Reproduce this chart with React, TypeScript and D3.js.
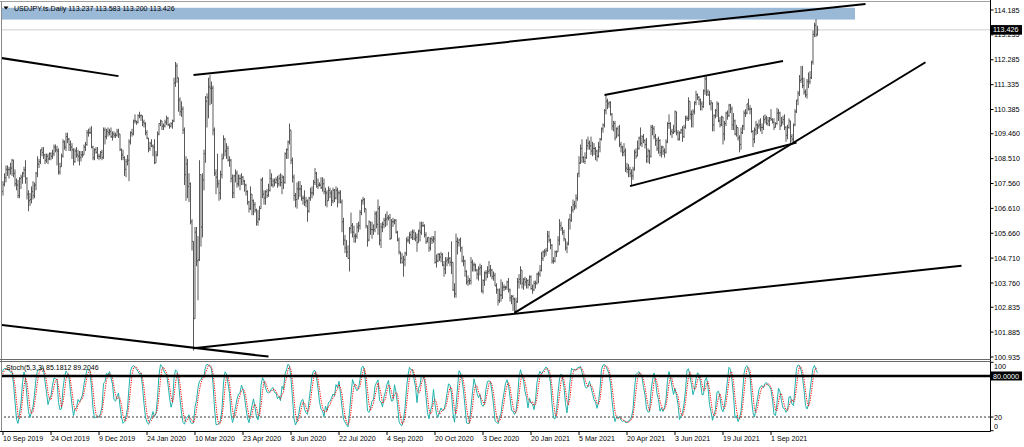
import React from "react";
import * as d3 from "d3";

// ---------- DATA (daily USDJPY bars, 28 Aug 2019 .. 14 Oct 2021; first 9 bars are before the visible window) ----------
const symbolTitle = "USDJPY.ts.Daily 113.237 113.583 113.200 113.426";
const stochTitle = "Stoch(5,3,3) 85.1812 89.2046";
const lastPrice = 113.426;
const lastPriceLabel = "113.426";
const firstVisibleBar = 9; // 10 Sep 2019

const closes = [
  105.65,106.5,106.25,106.2,105.95,106.45,106.95,106.9,107.25,
  107.53,107.78,108.1,108.09,
  108.1,108.15,108.45,107.95,107.55,
  107.5,107.1,107.75,107.8,107.95,
  108.08,107.75,107.15,106.9,106.95,
  107.25,107.1,107.5,107.95,108.3,
  108.4,108.85,108.75,108.65,108.45,
  108.6,108.5,108.7,108.6,108.7,
  108.95,108.85,108.8,108,108.2,
  108.6,109.15,108.95,109.35,109.25,
  109.05,108.95,108.85,108.4,108.8,
  108.65,108.6,108.55,108.65,108.65,
  108.95,109.05,109.5,109.5,109.5,
  108.95,108.55,108.85,108.75,108.6,
  108.6,108.75,108.55,109.6,109.35,
  109.55,109.5,109.55,109.35,109.45,
  109.4,109.4,109.55,109.45,
  108.85,108.65,108.55,108.1,
  108.4,108.45,109.15,109.5,109.45,
  109.95,109.95,109.9,110.15,110.15,
  110.15,109.9,109.85,109.5,109.3,
  108.9,109.1,109,108.95,108.35,
  108.65,109.45,109.85,109.95,109.75,
  109.75,109.9,110.05,109.8,109.75,
  109.85,109.95,111.4,112.05,111.6,
  110.75,110.3,110.4,109.6,107.9,
  108.3,107.45,107.55,106.1,105.35,
  102.4,105.7,104.6,104.65,107.9,
  105.9,107.7,108.7,110.7,110.85,
  111.25,111.2,111.2,109.6,107.95,
  107.8,107.55,107.2,107.9,108.5,
  109.25,108.8,108.9,108.45,108.45,
  107.75,107.2,107.85,107.95,107.55,
  107.75,107.75,107.8,107.65,107.5,
  107.25,106.85,106.6,107.15,106.9,
  106.75,106.55,106.1,106.2,106.6,
  107.7,107.15,107,107.25,107.1,
  107.3,107.75,107.5,107.65,107.6,
  107.7,107.55,107.75,107.6,107.8,
  107.6,108.7,108.85,109.15,109.6,
  108.45,107.8,107.1,106.95,107.35,
  107.35,107.35,107,107,106.85,
  106.9,106.5,107,107.2,107.2,
  107.6,107.95,107.45,107.5,107.5,
  107.4,107.55,107.25,107.2,106.9,
  107.3,107.2,106.9,107.3,107,
  107.3,107.2,107.2,106.85,106.1,
  105.4,105.1,104.95,104.7,105.85,
  105.95,105.7,105.55,105.55,105.9,
  105.95,106.45,106.9,106.95,106.6,
  105.95,105.4,106.1,105.8,105.8,
  105.8,106.4,106,106.6,105.4,
  105.9,106,106.15,106.2,106.25,
  106.25,105.45,106.1,106.1,106.15,
  105.7,105.4,104.95,104.7,104.55,
  104.65,104.9,105.4,105.4,105.6,
  105.5,105.7,105.45,105.5,105.3,
  105.75,105.7,105.95,105.95,105.6,
  105.35,105.5,105.1,105.45,105.4,
  105.45,104.55,104.6,104.85,104.75,
  104.85,104.45,104.3,104.6,104.65,
  104.7,104.55,104.55,103.5,103.35,
  105.35,105.3,105.4,105.1,104.6,
  104.6,104.2,103.8,103.85,103.85,
  104.55,104.45,104.45,104.25,104.1,
  104.3,104.35,103.45,103.85,104.15,
  104.15,104.2,104.25,104.25,104,
  104.05,103.65,103.5,103.1,103.3,
  103.3,103.6,103.6,103.6,
  103.8,103.5,103.2,103.25,
  103.15,102.7,103.05,103.8,103.9,
  104.25,103.75,103.9,103.8,103.85,
  103.7,104,103.55,103.5,103.75,
  103.75,104.1,104.1,104.25,104.7,
  104.95,104.95,105,105.55,105.4,
  105.2,104.6,104.6,104.95,104.95,
  105.4,105.95,105.85,105.7,105.45,
  105.1,105.25,106.2,106.15,106.55,
  106.75,106.7,107,107.95,108.35,
  108.9,108.55,108.4,108.55,109,
  109.1,109,108.8,108.9,108.9,
  108.8,108.6,108.95,109.25,109.65,
  109.8,110.35,110.7,110.6,110.65,
  110.2,109.75,109.85,109.3,109.65,
  109.4,109.05,108.95,108.75,108.8,
  108.15,108.1,108.1,107.95,107.85,
  108.1,108.75,108.6,108.9,109.3,
  109.1,109.35,109.2,109.05,108.6,
  108.8,108.6,109.7,109.65,109.35,
  109.2,108.9,109.2,108.75,108.95,
  108.8,108.75,109.15,109.85,109.85,
  109.55,109.5,109.55,110.3,109.5,
  109.25,109.5,109.6,109.35,109.7,
  110.05,110.05,110.7,110.2,110.2,
  110.3,110.65,110.95,110.85,110.75,
  110.6,110.5,111.1,111.55,111.05,
  110.95,110.6,110.65,109.8,110.15,
  110.35,110.6,109.95,109.8,110.1,
  109.45,109.85,110.25,110.15,110.55,
  110.4,109.8,109.95,109.45,109.7,
  109.3,109.05,109.5,109.75,110.25,
  110.25,110.6,110.4,110.4,109.55,
  109.25,109.6,109.8,109.75,109.8,
  109.7,109.7,110,110.05,109.85,
  109.95,110.05,110,109.9,109.7,
  109.85,110.25,110.25,109.75,109.9,
  110,109.7,109.4,109.7,109.95,
  109.35,109.25,109.8,110.3,110.75,
  111,111.5,111.55,111.3,111.05,
  110.95,111.45,111.45,111.6,112.2,
  113.25,113.6,113.24,113.426,
];

const highs = [
  106.15,106.6,106.7,106.35,106.3,106.5,107.2,107.1,107.4,
  107.65,107.95,108.25,108.25,
  108.2,108.35,108.5,108.47,108.1,
  107.75,107.7,107.8,107.9,108,
  108.2,108.45,107.8,107.3,107.2,
  107.45,107.65,107.6,108,108.6,
  108.5,108.85,108.95,108.95,108.7,
  108.7,108.7,108.75,108.75,108.85,
  109.05,109.05,109,108.9,108.35,
  108.7,109.25,109.2,109.5,109.5,
  109.3,109.2,109.1,108.9,108.9,
  108.95,108.85,108.8,108.8,108.8,
  109.05,109.15,109.6,109.65,109.7,
  109.75,109,108.9,108.95,108.95,
  108.7,108.8,108.85,109.7,109.7,
  109.65,109.7,109.65,109.7,109.55,
  109.55,109.5,109.65,109.65,
  109.45,108.9,108.85,108.6,
  108.5,108.65,109.25,109.55,109.65,
  110,110.2,109.95,110.2,110.3,
  110.2,110.15,110,109.9,109.6,
  109.3,109.15,109.25,109.05,109.25,
  108.8,109.55,109.85,110,109.95,
  109.85,110,110.15,110.1,109.85,
  109.9,110,111.6,112.2,112.15,
  111.6,110.85,110.7,110.5,109.7,
  108.6,108.5,107.95,107.6,106.2,
  105.35,105.9,105.9,105.55,108.45,
  107.9,107.95,108.85,110.9,111,
  111.6,111.7,111.45,111.3,109.7,
  108.1,108.7,107.7,108.05,108.7,
  109.4,109.3,109.1,109,108.6,
  108.5,107.9,107.9,108.1,108.05,
  107.9,107.9,107.95,107.85,107.7,
  107.55,107.3,106.9,107.45,107.15,
  106.95,106.85,106.6,106.55,106.7,
  107.75,107.8,107.3,107.3,107.35,
  107.55,108.1,107.95,107.75,107.75,
  107.8,107.85,107.9,107.95,107.9,
  107.85,108.75,108.9,109.2,109.85,
  109.6,108.55,107.9,107.2,107.6,
  107.65,107.65,107.5,107.1,107.3,
  107.05,106.95,107.05,107.4,107.45,
  107.7,108.15,108,107.75,107.6,
  107.8,107.8,107.75,107.4,107.3,
  107.45,107.4,107.3,107.4,107.35,
  107.45,107.4,107.3,107.3,106.95,
  106.25,105.6,105.4,105.2,105.9,
  106.45,106.05,105.95,105.65,106.05,
  106.1,106.55,106.95,107.05,107,
  106.6,105.95,106.15,106.1,106.1,
  106,106.5,106.5,106.95,106.7,
  106.05,106.1,106.25,106.4,106.5,
  106.35,106.4,106.2,106.25,106.2,
  106.2,105.75,105.5,104.95,104.9,
  104.8,104.95,105.5,105.55,105.7,
  105.75,105.8,105.8,105.7,105.65,
  105.8,106.1,106.1,106.1,106,
  105.7,105.5,105.5,105.5,105.55,
  105.55,105.75,104.85,104.9,104.9,
  104.95,104.9,104.6,104.75,104.75,
  104.95,104.75,105.35,104.5,103.75,
  105.65,105.5,105.45,105.5,105.15,
  104.8,104.65,104.25,104.05,103.95,
  104.75,104.65,104.55,104.5,104.3,
  104.4,104.5,104.45,103.9,104.2,
  104.25,104.4,104.6,104.45,104.3,
  104.2,104.15,103.75,103.55,103.55,
  103.9,103.8,103.7,103.65,
  103.85,103.95,103.55,103.3,
  103.3,103.2,103.2,103.95,104.1,
  104.4,104.25,103.95,104,103.95,
  103.9,104.05,104.05,103.7,103.85,
  103.85,104.15,104.2,104.45,104.95,
  105,105.05,105.1,105.75,105.75,
  105.45,105.25,104.75,105,105,
  105.55,106.2,106.1,105.9,105.8,
  105.45,105.35,106.2,106.4,106.7,
  106.95,106.9,107.15,107.95,108.6,
  109.05,109.25,108.6,108.75,109.25,
  109.35,109.2,109.35,109.15,109.1,
  108.95,108.85,109.15,109.3,109.7,
  109.85,110.4,110.95,110.8,110.7,
  110.7,110.25,109.95,109.95,109.7,
  109.75,109.8,109.15,109,109.1,
  108.9,108.35,108.3,108.2,108.1,
  108.2,108.85,108.9,109.2,109.35,
  109.7,109.4,109.45,109.25,109.3,
  108.9,108.85,109.8,109.8,109.75,
  109.45,109.3,109.35,109.25,109,
  109,108.9,109.25,109.9,110.2,
  109.9,109.65,109.8,110.35,110.3,
  109.6,109.55,109.65,109.75,109.8,
  110.15,110.15,110.85,110.7,110.35,
  110.4,110.7,111.1,111,110.9,
  110.8,110.7,111.15,111.65,111.65,
  111.15,111.1,110.75,110.65,110.2,
  110.4,110.7,110.65,110.1,110.15,
  110.1,109.95,110.3,110.35,110.6,
  110.6,110.5,110.25,110,109.8,
  109.7,109.4,109.7,109.8,110.35,
  110.4,110.6,110.8,110.55,110.45,
  109.6,109.7,109.95,109.85,110,
  110.05,109.85,110.15,110.2,110.15,
  110.1,110.1,110.4,110.05,110.05,
  109.9,110.45,110.4,110.3,110.1,
  110.15,110.2,109.75,109.8,110.05,
  109.95,109.45,109.85,110.4,110.75,
  111.1,111.7,112.05,112.05,111.6,
  111.15,111.55,111.8,111.85,112.25,
  113.4,113.7,113.84,113.583,
];

const lows = [
  105.6,105.75,106.2,106.1,105.75,105.9,106.4,106.75,106.85,
  107.1,107.45,107.6,107.85,
  107.75,107.9,107.85,107.8,107.45,
  107.3,107,107,107.35,107.55,
  107.8,107.55,106.95,106.5,106.7,
  106.8,106.95,107,107.3,107.8,
  108.15,108.3,108.6,108.5,108.3,
  108.35,108.3,108.45,108.45,108.5,
  108.6,108.75,108.25,107.9,107.9,
  108.25,108.55,108.85,108.8,109.1,
  108.8,108.8,108.5,108.25,108.35,
  108.55,108.4,108.25,108.4,108.55,
  108.7,108.8,109,109.35,109.45,
  108.9,108.45,108.45,108.7,108.5,
  108.45,108.5,108.45,108.5,109.05,
  109.25,109.35,109.4,109.3,109.2,
  109.3,109.3,109.35,109.3,
  108.8,108.45,108.45,107.85,
  107.8,108.25,107.65,109.05,109.35,
  109.4,109.85,109.8,109.85,110.05,
  109.95,109.75,109.7,109.4,109.25,
  108.75,108.8,108.95,108.6,108.3,
  108.35,108.6,109.4,109.75,109.6,
  109.6,109.7,109.8,109.75,109.65,
  109.7,109.65,109.9,111.25,111.4,
  110.3,110.15,110.1,109.45,107.5,
  106.9,107,106.85,106,105,
  101.18,102.45,104.4,103.1,104.6,
  105.15,105.5,107.3,108.35,109.7,
  110.05,110.55,110.6,109.4,107.85,
  107.15,107.4,106.9,106.95,107.75,
  108.5,108.6,108.5,108.4,108.2,
  107.6,107,107,107.6,107.4,
  107.45,107.3,107.5,107.5,107.25,
  107.1,106.75,106.45,106.55,106.35,
  106.35,106.45,105.95,105.95,106.15,
  106.6,107,106.75,106.75,107,
  107.05,107.25,107.45,107.4,107.45,
  107.55,107.4,107.45,107.45,107.15,
  107.35,107.55,108.5,108.5,109.05,
  108.3,107.6,106.9,106.65,106.6,
  106.95,107.05,106.9,106.75,106.7,
  106.65,106.1,106.45,106.9,107,
  107.1,107.5,107.4,107.35,107.45,
  107.35,107.25,107.15,106.7,106.65,
  106.95,107,106.7,106.8,106.85,
  106.95,106.65,106.8,106.8,105.7,
  105.2,104.9,104.75,104.7,104.2,
  105.65,105.5,105.3,105.3,105.45,
  105.7,105.8,106.35,106.75,106.45,
  105.85,105.15,105.35,105.6,105.45,
  105.6,105.7,105.85,105.6,105.2,
  105.1,105.7,105.85,105.9,105.95,
  106.15,105.4,105.5,105.9,106,
  105.65,105.35,104.85,104.5,104.5,
  104,104.4,104.8,105.3,105.25,
  105.45,105.4,105.4,105.35,104.95,
  105.3,105.35,105.6,105.9,105.5,
  105.25,105.3,104.95,105,105.25,
  105.3,104.5,104.35,104.55,104.6,
  104.55,104.4,104,104.1,104.4,
  104.5,104.4,104.1,103.45,103.2,
  103.2,104.85,105.15,104.95,104.55,
  104.4,104,103.7,103.65,103.7,
  103.7,104.2,104.2,104.2,103.9,
  103.85,104.05,103.4,103.35,103.65,
  103.85,103.95,104.1,104,103.9,
  103.85,103.65,103.35,102.9,103,
  103.05,103.15,103.45,103.5,
  103.5,103.4,103.05,102.95,
  102.7,102.6,102.6,103,103.55,
  103.7,103.55,103.5,103.65,103.55,
  103.55,103.65,103.5,103.35,103.45,
  103.55,103.7,103.75,104,104.2,
  104.6,104.75,104.8,104.95,105.3,
  105.05,104.5,104.5,104.55,104.75,
  104.95,105.2,105.75,105.6,105.35,
  105,104.9,105.2,105.8,106.1,
  106.45,106.55,106.6,106.9,107.8,
  108.3,108.35,108.35,108.3,108.5,
  108.85,108.85,108.65,108.6,108.65,
  108.45,108.4,108.55,108.75,109.2,
  109.5,109.7,110.2,110.4,110.45,
  110.15,109.6,109.55,109.2,109.3,
  109.35,108.95,108.75,108.6,108.6,
  108,107.95,107.8,107.8,107.5,
  107.7,108.05,108.5,108.6,108.85,
  109,108.95,109.1,108.9,108.35,
  108.35,108.3,108.55,109.4,109.25,
  109,108.8,108.7,108.6,108.55,
  108.65,108.55,108.7,109.1,109.65,
  109.4,109.3,109.45,109.5,109.4,
  109.2,109.2,109.45,109.15,109.3,
  109.65,109.95,109.95,110,109.7,
  109.7,110.2,110.55,110.75,110.55,
  110.35,110.35,110.45,110.95,110.9,
  110.9,110.55,110.35,109.55,109.55,
  110.05,110.1,109.9,109.7,109.75,
  109.05,109.2,109.75,110,110.1,
  110.25,109.6,109.6,109.4,109.35,
  109.2,108.75,108.85,109.45,109.6,
  110.1,110.2,110.35,110.2,109.5,
  108.95,109.1,109.4,109.45,109.65,
  109.55,109.45,109.6,109.85,109.8,
  109.75,109.75,109.95,109.85,109.6,
  109.7,109.8,109.95,109.6,109.75,
  109.8,109.6,109.15,109.25,109.65,
  109.1,109.15,109.1,109.75,110.25,
  110.55,110.9,111.4,111.2,110.95,
  110.85,110.8,111.2,111.35,111.55,
  112.1,113.15,113.15,113.2,
];

const priceTicks = [
  "114.185","113.235","112.285","111.335","110.385","109.460","108.510","107.560",
  "106.610","105.660","104.710","103.760","102.835","101.885","100.935",
];

const timeLabels = [
  "10 Sep 2019","24 Oct 2019","9 Dec 2019","24 Jan 2020","10 Mar 2020","23 Apr 2020",
  "8 Jun 2020","22 Jul 2020","4 Sep 2020","20 Oct 2020","3 Dec 2020","20 Jan 2021",
  "5 Mar 2021","20 Apr 2021","3 Jun 2021","19 Jul 2021","1 Sep 2021",
];
const barsPerTimeLabel = 32;

const stochAxisLabels = [100, 20, 0];
const stochDashedLevel = 20;
const stochLineLevel = 80;
const stochLineLabel = "80.0000";

// Drawn objects: [visible bar index, price]
const trendLines: [number, number, number, number][] = [
  [-1, 112.35, 77, 111.66],
  [127, 111.7, 575, 114.41],
  [-1, 102.16, 177, 100.95],
  [127, 101.27, 639, 104.42],
  [341, 102.62, 615, 112.19],
  [401, 110.94, 520, 112.24],
  [418, 107.46, 529, 109.12],
];
const zone = { fromBar: -20, toBar: 568, top: 114.27, bottom: 113.82 };

const FONT = "'Liberation Sans', Arial, sans-serif";

export default function App() {
  const W = 1024, H = 447;
  const axisX = 990.5;
  const mainBottom = 359.5;
  const stochTop = 361.5;
  const stochBottom = 431.5;

  const x = d3.scaleLinear().domain([0, 543]).range([3, 817.5]);
  const y = d3.scaleLinear().domain([100.935, 114.185]).range([357, 10]);
  const ys = d3.scaleLinear().domain([0, 100]).range([430.7, 362.3]);

  const n = closes.length;
  const bx = (i: number) => x(i - firstVisibleBar);

  // OHLC bars (open = previous close)
  let barPath = "";
  for (let i = firstVisibleBar; i < n; i++) {
    const o = closes[i - 1];
    const c = closes[i];
    const hi = Math.max(highs[i], o, c);
    const lo = Math.min(lows[i], o, c);
    const xi = bx(i);
    barPath += `M${xi},${y(hi)}V${y(lo)}M${xi - 1},${y(o)}H${xi}M${xi},${y(c)}H${xi + 1}`;
  }

  // Stochastic (5,3,3)
  const kLine: (number | null)[] = new Array(n).fill(null);
  for (let i = 6; i < n; i++) {
    let num = 0, den = 0;
    for (let j = i - 2; j <= i; j++) {
      const hh = d3.max(highs.slice(j - 4, j + 1)) as number;
      const ll = d3.min(lows.slice(j - 4, j + 1)) as number;
      num += closes[j] - ll;
      den += hh - ll;
    }
    kLine[i] = den === 0 ? 100 : (100 * num) / den;
  }
  const dLine: (number | null)[] = kLine.map((_, i) =>
    i >= 8 && kLine[i] != null && kLine[i - 1] != null && kLine[i - 2] != null
      ? ((kLine[i] as number) + (kLine[i - 1] as number) + (kLine[i - 2] as number)) / 3
      : null
  );
  const idx = d3.range(firstVisibleBar - 1, n);
  const lineGen = (arr: (number | null)[]) =>
    d3
      .line<number>()
      .defined((i) => arr[i] != null)
      .x((i) => bx(i))
      .y((i) => ys(arr[i] as number))(idx) || "";

  return (
    <svg
      width={W}
      height={H}
      style={{ position: "absolute", left: 0, top: 0, background: "#fff" }}
      fontFamily={FONT}
    >
      <defs>
        <clipPath id="mainClip">
          <rect x={2} y={2} width={axisX - 2} height={mainBottom - 2} />
        </clipPath>
        <clipPath id="stochClip">
          <rect x={2} y={stochTop} width={axisX - 2} height={stochBottom - stochTop} />
        </clipPath>
      </defs>
      <rect x={0} y={0} width={W} height={H} fill="#fff" />

      {/* main panel */}
      <g clipPath="url(#mainClip)">
        <rect
          x={x(zone.fromBar)}
          y={y(zone.top)}
          width={x(zone.toBar) - x(zone.fromBar)}
          height={y(zone.bottom) - y(zone.top)}
          fill="#9ab9d7"
        />
        <line x1={0} x2={axisX} y1={y(lastPrice)} y2={y(lastPrice)} stroke="#cfcfcf" strokeWidth={1} />
        <path d={barPath} stroke="#5a5a5a" strokeWidth={1} fill="none" />
        {trendLines.map((t, k) => (
          <line
            key={k}
            x1={x(t[0])}
            y1={y(t[1])}
            x2={x(t[2])}
            y2={y(t[3])}
            stroke="#000"
            strokeWidth={2}
          />
        ))}
      </g>

      {/* title */}
      <path d="M3.5,6.5 L8.5,6.5 L6,9.5 Z" fill="#000" />
      <text x={14} y={11} fontSize={7.1} fill="#000">{symbolTitle}</text>

      {/* frame */}
      <line x1={0} x2={axisX} y1={1.5} y2={1.5} stroke="#a0a0a0" />
      <line x1={1.5} x2={1.5} y1={1.5} y2={stochBottom} stroke="#8a8a8a" />
      <line x1={axisX} x2={axisX} y1={0} y2={stochBottom} stroke="#000" />
      <line x1={0} x2={axisX} y1={mainBottom} y2={mainBottom} stroke="#6a6a6a" />
      <line x1={0} x2={axisX} y1={stochTop} y2={stochTop} stroke="#6a6a6a" />
      <line x1={0} x2={axisX} y1={stochBottom} y2={stochBottom} stroke="#000" />

      {/* price axis */}
      {priceTicks.map((t) => {
        const py = y(parseFloat(t));
        return (
          <g key={t}>
            <line x1={axisX} x2={axisX + 3} y1={py} y2={py} stroke="#000" />
            <text x={994} y={py + 2.6} fontSize={7.2} fill="#000">{t}</text>
          </g>
        );
      })}
      <rect x={991} y={y(lastPrice) - 4.8} width={31} height={9.6} fill="#000" />
      <text x={993} y={y(lastPrice) + 2.6} fontSize={7.2} fill="#fff">{lastPriceLabel}</text>

      {/* stochastic panel */}
      <g clipPath="url(#stochClip)">
        <line
          x1={0}
          x2={axisX}
          y1={ys(stochDashedLevel)}
          y2={ys(stochDashedLevel)}
          stroke="#000"
          strokeDasharray="2,2"
          strokeWidth={0.8}
        />
        <path d={lineGen(kLine)} fill="none" stroke="#20B2AA" strokeWidth={1} />
        <path d={lineGen(dLine)} fill="none" stroke="#ff0000" strokeWidth={1} strokeDasharray="1.2,1.2" />
        <line x1={0} x2={axisX} y1={ys(stochLineLevel)} y2={ys(stochLineLevel)} stroke="#000" strokeWidth={2.6} />
      </g>
      <text x={6} y={370.3} fontSize={7} fill="#000">{stochTitle}</text>
      {stochAxisLabels.map((v) => (
        <g key={v}>
          <line x1={axisX} x2={axisX + 3} y1={ys(v)} y2={ys(v)} stroke="#000" />
          <text
            x={994}
            y={v === 100 ? ys(v) + 6.5 : v === 0 ? ys(v) - 2 : ys(v) + 2.6}
            fontSize={7.2}
            fill="#000"
          >
            {v}
          </text>
        </g>
      ))}
      <rect x={991} y={ys(stochLineLevel) - 4.5} width={31} height={9} fill="#000" />
      <text x={993} y={ys(stochLineLevel) + 2.6} fontSize={7.2} fill="#fff">{stochLineLabel}</text>

      {/* time axis */}
      {timeLabels.map((lab, k) => {
        const tx = x(k * barsPerTimeLabel);
        return (
          <g key={lab}>
            <line x1={tx} x2={tx} y1={stochBottom} y2={stochBottom + 3.5} stroke="#000" />
            <text x={tx} y={440.5} fontSize={7.1} fill="#000">{lab}</text>
          </g>
        );
      })}
    </svg>
  );
}
